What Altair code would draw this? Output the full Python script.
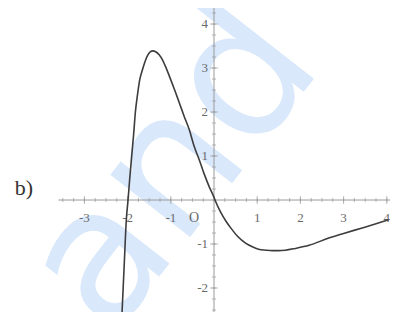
import altair as alt
import pandas as pd

# curve
curve_x = [-2.15, -2.08, -2.03, -1.99, -1.95, -1.91, -1.86, -1.82, -1.77, -1.72, -1.66, -1.61,
           -1.54, -1.47, -1.42, -1.35, -1.27, -1.19, -1.10, -1.00, -0.90, -0.80, -0.69, -0.57,
           -0.46, -0.34, -0.23, -0.11, 0.00, 0.04, 0.15, 0.27, 0.40, 0.55, 0.73, 0.90, 1.03,
           1.20, 1.35, 1.49, 1.65, 1.88, 2.20, 2.64, 3.00, 3.41, 3.75, 4.04]
curve_y = [-3.00, -1.50, -0.45, 0.00, 0.50, 0.95, 1.50, 2.00, 2.40, 2.73, 2.95, 3.11,
           3.28, 3.37, 3.39, 3.37, 3.30, 3.18, 2.98, 2.73, 2.47, 2.20, 1.90, 1.59,
           1.22, 0.91, 0.60, 0.30, 0.06, -0.04, -0.27, -0.47, -0.65, -0.83, -0.98, -1.07, -1.12,
           -1.14, -1.15, -1.15, -1.14, -1.10, -1.03, -0.87, -0.76, -0.64, -0.54, -0.45]

x_tick_values = [-3, -2, -1, 1, 2, 3, 4]
x_tick_labels = ["-3", "-2", "-1", "1", "2", "3", "4"]
y_tick_values = [-2, -1, 1, 2, 3, 4]
y_tick_labels = ["-2", "-1", "1", "2", "3", "4"]
x_minor = [v / 4 for v in range(-14, 17)]
y_minor = [v / 4 for v in range(-11, 18)]
x_axis_range = [-3.6, 4.1]
y_axis_range = [-2.8, 4.45]
origin_label = ["O"]
part_label = ["b)"]
watermark = ["and"]

xs = alt.Scale(domain=[-4.769, 4.074], nice=False, zero=False)
ys = alt.Scale(domain=[-2.545, 4.364], nice=False, zero=False)

curve_df = pd.DataFrame({"x": curve_x, "y": curve_y})
axis_gray = "#9a9a9a"
label_gray = "#6a6a6a"

wm = alt.Chart(pd.DataFrame({"t": watermark})).mark_text(
    font="DejaVu Sans", fontWeight="normal", fontSize=185, color="#d9e8fb", angle=308,
    align="center", baseline="middle"
).encode(x=alt.value(165), y=alt.value(160), text="t:N")

xaxis = alt.Chart(pd.DataFrame({"a": [x_axis_range[0]], "b": [x_axis_range[1]], "y": [0]})).mark_rule(
    color=axis_gray, strokeWidth=1).encode(x=alt.X("a:Q", scale=xs, axis=None), x2="b:Q", y=alt.Y("y:Q", scale=ys, axis=None))
yaxis = alt.Chart(pd.DataFrame({"a": [y_axis_range[0]], "b": [y_axis_range[1]], "x": [0]})).mark_rule(
    color=axis_gray, strokeWidth=1).encode(y=alt.Y("a:Q", scale=ys, axis=None), y2="b:Q", x=alt.X("x:Q", scale=xs, axis=None))

xminor = alt.Chart(pd.DataFrame({"x": x_minor, "y": [0] * len(x_minor)})).mark_tick(
    orient="vertical", size=4, thickness=1, color=axis_gray).encode(
    x=alt.X("x:Q", scale=xs, axis=None), y=alt.Y("y:Q", scale=ys, axis=None))
yminor = alt.Chart(pd.DataFrame({"y": y_minor, "x": [0] * len(y_minor)})).mark_tick(
    orient="horizontal", size=4, thickness=1, color=axis_gray).encode(
    x=alt.X("x:Q", scale=xs, axis=None), y=alt.Y("y:Q", scale=ys, axis=None))
xmajor = alt.Chart(pd.DataFrame({"x": x_tick_values, "y": [0] * len(x_tick_values)})).mark_tick(
    orient="vertical", size=8, thickness=1, color=axis_gray).encode(
    x=alt.X("x:Q", scale=xs, axis=None), y=alt.Y("y:Q", scale=ys, axis=None))
ymajor = alt.Chart(pd.DataFrame({"y": y_tick_values, "x": [0] * len(y_tick_values)})).mark_tick(
    orient="horizontal", size=8, thickness=1, color=axis_gray).encode(
    x=alt.X("x:Q", scale=xs, axis=None), y=alt.Y("y:Q", scale=ys, axis=None))

xlabels = alt.Chart(pd.DataFrame({"x": x_tick_values, "y": [0] * len(x_tick_values), "t": x_tick_labels})).mark_text(
    font="Liberation Serif", fontSize=13, color=label_gray, dy=18, align="center", baseline="middle").encode(
    x=alt.X("x:Q", scale=xs, axis=None), y=alt.Y("y:Q", scale=ys, axis=None), text="t:N")
ylabels = alt.Chart(pd.DataFrame({"y": y_tick_values, "x": [0] * len(y_tick_values), "t": y_tick_labels})).mark_text(
    font="Liberation Serif", fontSize=13, color=label_gray, dx=-6, align="right", baseline="middle").encode(
    x=alt.X("x:Q", scale=xs, axis=None), y=alt.Y("y:Q", scale=ys, axis=None), text="t:N")
olabel = alt.Chart(pd.DataFrame({"x": [0], "y": [0], "t": origin_label})).mark_text(
    font="Liberation Serif", fontSize=14, color=label_gray, dx=-20, dy=18, align="center", baseline="middle").encode(
    x=alt.X("x:Q", scale=xs, axis=None), y=alt.Y("y:Q", scale=ys, axis=None), text="t:N")
blabel = alt.Chart(pd.DataFrame({"t": part_label})).mark_text(
    font="Liberation Serif", fontSize=22, color="#333333", align="center", baseline="middle").encode(
    x=alt.value(16), y=alt.value(180), text="t:N")

curve = alt.Chart(curve_df).mark_line(color="#3d3d3d", strokeWidth=1.6, interpolate="monotone", clip=True).encode(
    x=alt.X("x:Q", scale=xs, axis=None), y=alt.Y("y:Q", scale=ys, axis=None), order=alt.Order("x:Q"))

chart = alt.layer(wm, xaxis, yaxis, xminor, yminor, xmajor, ymajor, xlabels, ylabels, olabel, blabel, curve).properties(
    width=382, height=304, padding=0, background="white",
    autosize=alt.AutoSizeParams(type="none")
).configure_view(stroke=None)

chart.save("out.html", embed_options={"renderer": "svg", "actions": False})
